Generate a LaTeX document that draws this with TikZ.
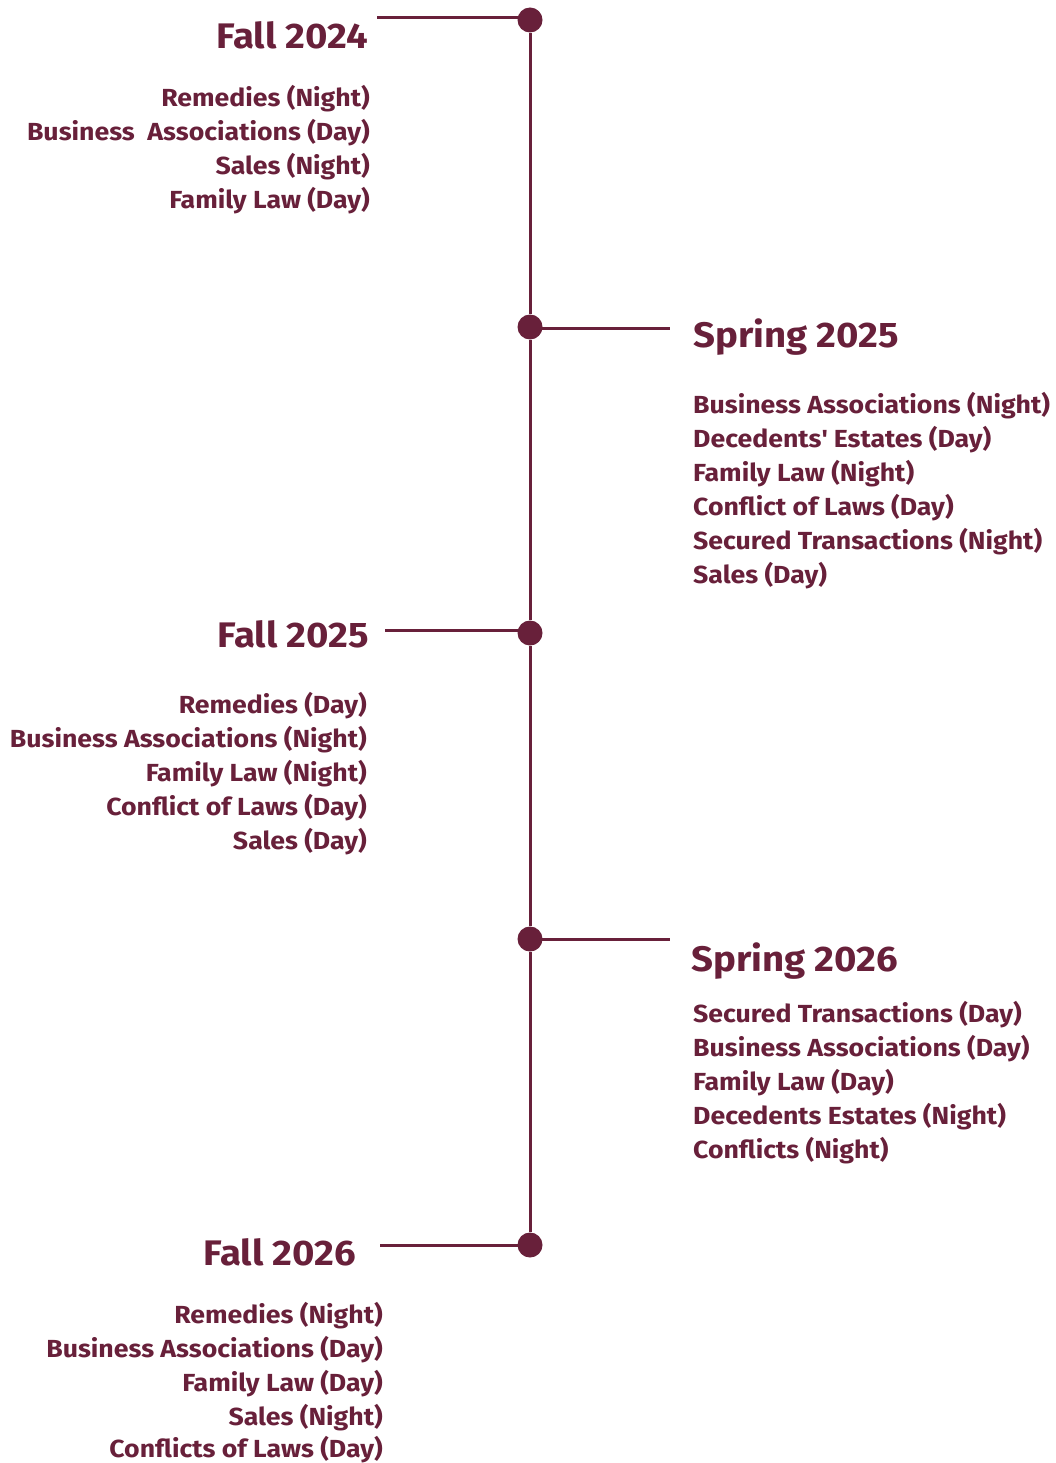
\documentclass[tikz,border=0pt]{standalone}
\usepackage{fontspec}
\setmainfont{Fira Sans}[FakeStretch=1.08]
\definecolor{maroon}{HTML}{68203A}
\begin{document}
\begin{tikzpicture}[x=1pt,y=-1pt,
  conn/.style={draw=maroon,line width=3pt},
  dot/.style={circle,fill=maroon,minimum size=25pt,inner sep=0pt},
  title/.style={text=maroon,inner sep=0pt,yshift=-1.5pt,font=\fontsize{35.5}{35.5}\selectfont\bfseries},
  item/.style={text=maroon,inner sep=0pt,yshift=-1.5pt,font=\fontsize{24.7}{24.7}\selectfont\bfseries}]
\useasboundingbox (0,0) rectangle (1055,1463);
% dots
\node[dot] (d1) at (530,20) {};
\node[dot] (d2) at (530,327) {};
\node[dot] (d3) at (530,633) {};
\node[dot] (d4) at (530,939) {};
\node[dot] (d5) at (530,1245) {};
\draw[conn] (d1) -- (d2) -- (d3) -- (d4) -- (d5);
% branch ends
\coordinate (e1) at (377,18);
\coordinate (e2) at (670,328);
\coordinate (e3) at (385,630);
\coordinate (e4) at (670,939);
\coordinate (e5) at (380,1245);
\draw[conn] (e1) -- (e1 -| d1.center) -- (d1.center);
\draw[conn] (d2.center) -- (d2.center |- e2) -- (e2);
\draw[conn] (e3) -- (e3 -| d3.center) -- (d3.center);
\draw[conn] (d4.center) -- (e4);
\draw[conn] (e5) -- (d5.center);
% titles
\node[title,anchor=base east] (t1) at (368,47) {Fall 2024};
\node[title,anchor=base west] (t2) at (693,346) {Spring 2025};
\node[title,anchor=base east] (t3) at (369,646) {Fall 2025};
\node[title,anchor=base west] (t4) at (691,970) {Spring 2026};
\node[title,anchor=base east] (t5) at (356,1264) {Fall 2026};
% Fall 2024
\node[item,anchor=base east] (a1) at (370,105) {Remedies (Night)};
\node[item,anchor=base east] (a2) at (370,139) {Business\ \ Associations (Day)};
\node[item,anchor=base east] (a3) at (370,173) {Sales (Night)};
\node[item,anchor=base east] (a4) at (370,207) {Family Law (Day)};
% Spring 2025
\node[item,anchor=base west] (b1) at (693,412) {Business Associations (Night)};
\node[item,anchor=base west] (b2) at (693,446) {Decedents\textquotesingle{} Estates (Day)};
\node[item,anchor=base west] (b3) at (693,480) {Family Law (Night)};
\node[item,anchor=base west] (b4) at (693,514) {Conflict of Laws (Day)};
\node[item,anchor=base west] (b5) at (693,548) {Secured Transactions (Night)};
\node[item,anchor=base west] (b6) at (693,582) {Sales (Day)};
% Fall 2025
\node[item,anchor=base east] (c1) at (367,712) {Remedies (Day)};
\node[item,anchor=base east] (c2) at (367,746) {Business Associations (Night)};
\node[item,anchor=base east] (c3) at (367,780) {Family Law (Night)};
\node[item,anchor=base east] (c4) at (367,814) {Conflict of Laws (Day)};
\node[item,anchor=base east] (c5) at (367,848) {Sales (Day)};
% Spring 2026
\node[item,anchor=base west] (f1) at (693,1021) {Secured Transactions (Day)};
\node[item,anchor=base west] (f2) at (693,1055) {Business Associations (Day)};
\node[item,anchor=base west] (f3) at (693,1089) {Family Law (Day)};
\node[item,anchor=base west] (f4) at (693,1123) {Decedents Estates (Night)};
\node[item,anchor=base west] (f5) at (693,1157) {Conflicts (Night)};
% Fall 2026
\node[item,anchor=base east] (g1) at (383,1322) {Remedies (Night)};
\node[item,anchor=base east] (g2) at (383,1356) {Business Associations (Day)};
\node[item,anchor=base east] (g3) at (383,1390) {Family Law (Day)};
\node[item,anchor=base east] (g4) at (383,1424) {Sales (Night)};
\node[item,anchor=base east] (g5) at (383,1455.5) {Conflicts of Laws (Day)};
\end{tikzpicture}
\end{document}
